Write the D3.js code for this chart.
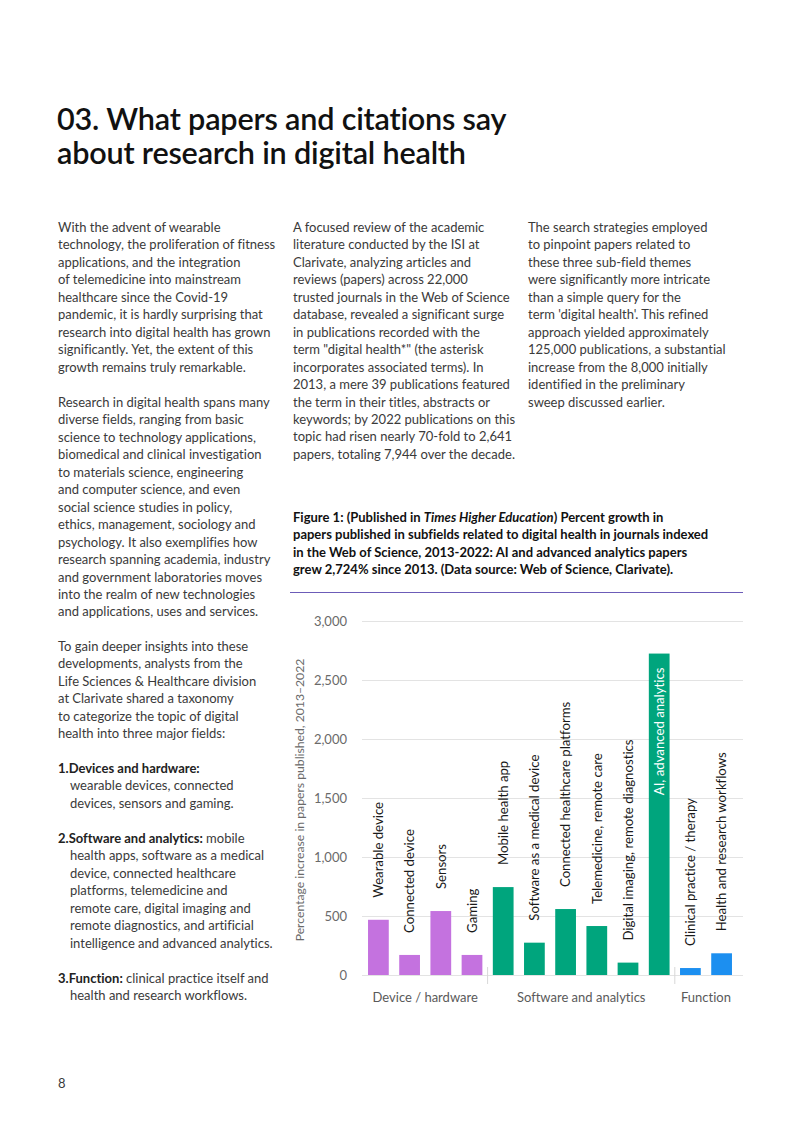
<!DOCTYPE html>
<html>
<head>
<meta charset="utf-8">
<script src="https://cdn.jsdelivr.net/npm/d3@7"></script>
<style>
  html, body { margin: 0; padding: 0; background: #fff; }
  svg { display: block; }
  text { font-family: Lato, "Noto Sans", sans-serif; font-variant-ligatures: none; }
</style>
</head>
<body>
<div id="chart"></div>
<script>
// ---------- DATA ----------
const categories = [
  "Wearable device", "Connected device", "Sensors", "Gaming",
  "Mobile health app", "Software as a medical device", "Connected healthcare platforms",
  "Telemedicine, remote care", "Digital imaging, remote diagnostics", "AI, advanced analytics",
  "Clinical practice / therapy", "Health and research workflows"
];
const values = [468, 170, 542, 170, 745, 274, 559, 415, 105, 2724, 59, 184];
const groupOf = ["Device / hardware","Device / hardware","Device / hardware","Device / hardware",
  "Software and analytics","Software and analytics","Software and analytics","Software and analytics",
  "Software and analytics","Software and analytics","Function","Function"];
const groups = ["Device / hardware", "Software and analytics", "Function"];
const groupColors = ["#c472df", "#00a57d", "#1c8ff0"];
const yTicks = [0, 500, 1000, 1500, 2000, 2500, 3000];
const yAxisTitle = "Percentage increase in papers published, 2013\u20132022";

const titleLines = ["03. What papers and citations say", "about research in digital health"];
const col1 = [
  ["With the advent of wearable","technology, the proliferation of fitness","applications, and the integration","of telemedicine into mainstream","healthcare since the Covid-19","pandemic, it is hardly surprising that","research into digital health has grown","significantly. Yet, the extent of this","growth remains truly remarkable."],
  ["Research in digital health spans many","diverse fields, ranging from basic","science to technology applications,","biomedical and clinical investigation","to materials science, engineering","and computer science, and even","social science studies in policy,","ethics, management, sociology and","psychology. It also exemplifies how","research spanning academia, industry","and government laboratories moves","into the realm of new technologies","and applications, uses and services."],
  ["To gain deeper insights into these","developments, analysts from the","Life Sciences & Healthcare division","at Clarivate shared a taxonomy","to categorize the topic of digital","health into three major fields:"]
];
const listItems = [
  {num: "1.", bold: "Devices and hardware:", lines: ["", "wearable devices, connected", "devices, sensors and gaming."]},
  {num: "2.", bold: "Software and analytics:", lines: [" mobile", "health apps, software as a medical", "device, connected healthcare", "platforms, telemedicine and", "remote care, digital imaging and", "remote diagnostics, and artificial", "intelligence and advanced analytics."]},
  {num: "3.", bold: "Function:", lines: [" clinical practice itself and", "health and research workflows."]}
];
const col2 = ["A focused review of the academic","literature conducted by the ISI at","Clarivate, analyzing articles and","reviews (papers) across 22,000","trusted journals in the Web of Science","database, revealed a significant surge","in publications recorded with the","term \"digital health*\" (the asterisk","incorporates associated terms). In","2013, a mere 39 publications featured","the term in their titles, abstracts or","keywords; by 2022 publications on this","topic had risen nearly 70-fold to 2,641","papers, totaling 7,944 over the decade."];
const col3 = ["The search strategies employed","to pinpoint papers related to","these three sub-field themes","were significantly more intricate","than a simple query for the","term 'digital health'. This refined","approach yielded approximately","125,000 publications, a substantial","increase from the 8,000 initially","identified in the preliminary","sweep discussed earlier."];
const pageNumber = "8";

// ---------- PAGE ----------
const W = 802, H = 1133;
const svg = d3.select("#chart").append("svg").attr("width", W).attr("height", H);
const bodyColor = "#3a3a3a";
const LH = 17.45;

// Title
svg.append("g").selectAll("text").data(titleLines).join("text")
  .attr("x", 57).attr("y", (d, i) => 130 + i * 34)
  .attr("font-size", 30.6).attr("font-weight", 600).attr("fill", "#111")
  .attr("letter-spacing", "-0.2px")
  .text(d => d);

function block(lines, x, y0) {
  svg.append("g").selectAll("text").data(lines).join("text")
    .attr("x", x).attr("y", (d, i) => y0 + i * LH)
    .attr("font-size", 13).attr("fill", bodyColor)
    .text(d => d);
}
// Column 1
block(col1[0], 58, 232);
block(col1[1], 58, 407);
block(col1[2], 58, 651);
// Numbered list
const listY = [773, 843, 983];
listItems.forEach((it, k) => {
  const g = svg.append("g");
  const t = g.append("text").attr("x", 58).attr("y", listY[k])
    .attr("font-size", 13).attr("fill", bodyColor);
  t.append("tspan").attr("font-weight", 700).attr("fill", "#222").text(it.num + it.bold);
  if (it.lines[0]) t.append("tspan").text(it.lines[0]);
  g.selectAll("text.c").data(it.lines.slice(1)).join("text").attr("class", "c")
    .attr("x", 70).attr("y", (d, i) => listY[k] + (i + 1) * LH)
    .attr("font-size", 13).attr("fill", bodyColor).text(d => d);
});
// Column 2 and 3
block(col2, 293, 232);
block(col3, 528, 232);

// Caption
const cap = svg.append("g").attr("font-size", 13).attr("font-weight", 700).attr("fill", "#111");
const c1 = cap.append("text").attr("x", 293).attr("y", 522);
c1.append("tspan").text("Figure 1: (Published in ");
c1.append("tspan").attr("font-style", "italic").text("Times Higher Education");
c1.append("tspan").text(") Percent growth in");
["papers published in subfields related to digital health in journals indexed",
 "in the Web of Science, 2013-2022: AI and advanced analytics papers",
 "grew 2,724% since 2013. (Data source: Web of Science, Clarivate)."].forEach((l, i) => {
  cap.append("text").attr("x", 293).attr("y", 522 + (i + 1) * LH).text(l);
});
svg.append("line").attr("x1", 290).attr("x2", 743).attr("y1", 592.5).attr("y2", 592.5)
  .attr("stroke", "#6c5cb8").attr("stroke-width", 1.2);

// Page number
svg.append("text").attr("x", 58).attr("y", 1088).attr("font-size", 13).attr("fill", bodyColor).text(pageNumber);

// ---------- CHART ----------
const x = d3.scaleBand().domain(categories).range([362.8, 737.2]).paddingInner(0.335).paddingOuter(0.1675);
const y = d3.scaleLinear().domain([0, 3000]).range([975, 621]);
const color = d3.scaleOrdinal().domain(groups).range(groupColors);

const chart = svg.append("g");
// grid
chart.append("g").selectAll("line").data(yTicks).join("line")
  .attr("x1", 362).attr("x2", 743)
  .attr("y1", d => y(d) + 0.5).attr("y2", d => y(d) + 0.5)
  .attr("stroke", "#e3e3e3").attr("stroke-width", 1);
// y axis labels via axis
const yAxis = d3.axisLeft(y).tickValues(yTicks).tickFormat(d3.format(",")).tickSize(0).tickPadding(0);
const ya = chart.append("g").attr("transform", "translate(347,0)").call(yAxis);
ya.select(".domain").remove();
ya.selectAll("text").attr("font-size", 13).attr("fill", "#6a6a6a")
  .attr("font-family", "Lato, 'Noto Sans', sans-serif");

// y title
chart.append("text")
  .attr("transform", `translate(304,${(621 + 975) / 2 + 2}) rotate(-90)`)
  .attr("text-anchor", "middle").attr("font-size", 12.2).attr("fill", "#6a6a6a")
  .text(yAxisTitle);

// bars
chart.append("g").selectAll("rect").data(categories).join("rect")
  .attr("x", d => x(d)).attr("width", x.bandwidth())
  .attr("y", (d, i) => y(values[i])).attr("height", (d, i) => y(0) - y(values[i]))
  .attr("fill", (d, i) => color(groupOf[i]));

// bar labels
const maxV = d3.max(values);
chart.append("g").selectAll("text").data(categories).join("text")
  .attr("transform", (d, i) => {
    const cx = x(d) + x.bandwidth() / 2;
    const yy = values[i] === maxV ? y(values[i]) + 14 : y(values[i]) - 22;
    return `translate(${cx},${yy}) rotate(-90)`;
  })
  .attr("text-anchor", (d, i) => values[i] === maxV ? "end" : "start")
  .attr("dy", "0.36em")
  .attr("font-size", 13.2)
  .attr("fill", (d, i) => values[i] === maxV ? "#fff" : "#1a1a1a")
  .text(d => d);

// group separators and labels
const groupInfo = groups.map(g => {
  const cats = categories.filter((c, i) => groupOf[i] === g);
  return {name: g, x0: x(cats[0]), x1: x(cats[cats.length - 1]) + x.bandwidth()};
});
chart.append("g").selectAll("line").data(groupInfo.slice(0, -1)).join("line")
  .attr("x1", (d, i) => (d.x1 + groupInfo[i + 1].x0) / 2)
  .attr("x2", (d, i) => (d.x1 + groupInfo[i + 1].x0) / 2)
  .attr("y1", 967).attr("y2", 984)
  .attr("stroke", "#d8d8d8").attr("stroke-width", 1);
chart.append("g").selectAll("text").data(groupInfo).join("text")
  .attr("x", d => (d.x0 + d.x1) / 2).attr("y", 1001.5)
  .attr("text-anchor", "middle").attr("font-size", 13).attr("fill", "#5a5a5a")
  .text(d => d.name);
</script>
</body>
</html>
